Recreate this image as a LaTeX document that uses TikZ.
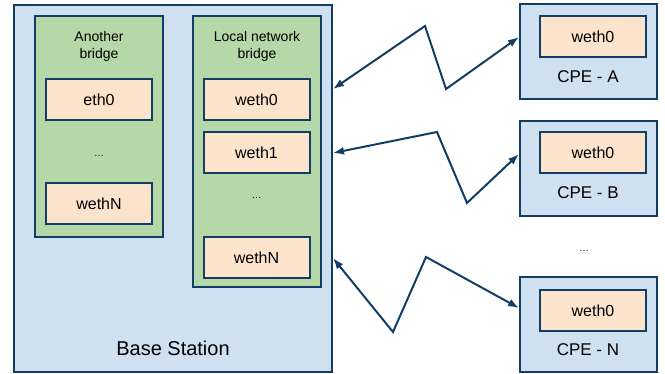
\documentclass[tikz,border=0pt]{standalone}
\usepackage{fontspec}
\setmainfont{Liberation Sans}
\usetikzlibrary{arrows.meta}

\definecolor{navy}{RGB}{18,62,102}
\definecolor{station}{RGB}{207,224,241}
\definecolor{bridgegreen}{RGB}{182,215,168}
\definecolor{ifaceorange}{RGB}{252,228,204}

\begin{document}
\begin{tikzpicture}[x=1pt, y=-1pt, line width=2pt]
    \tikzset{box/.style={draw=navy, rectangle, inner sep=0pt},
             station/.style={box, fill=station, minimum width=318pt, minimum height=367pt},
             bridge/.style={box, fill=bridgegreen, minimum width=128pt},
             iface/.style={box, fill=ifaceorange, minimum width=106pt, minimum height=41pt, font=\fontsize{16}{16}\selectfont},
             title/.style={align=center, font=\fontsize{14}{17}\selectfont},
             cpe/.style={box, fill=station, minimum width=137pt, minimum height=95pt},
             label/.style={font=\fontsize{17}{17}\selectfont},
             link/.style={draw=navy, line width=2pt, {Latex[length=11pt,width=8pt]}-{Latex[length=11pt,width=8pt]}}};

    \useasboundingbox (0, 0) rectangle (665, 373);

    % Base station
    \node [station] (bs) at (173, 188.5) {};
    \node [font=\fontsize{20}{20}\selectfont] (bslabel) at (173, 348) {Base Station};

    % Another bridge
    \node [bridge, minimum height=221pt] (ab) at (99, 126.5) {};
    \node [title] (abtitle) at (99, 46) {Another\\bridge};
    \node [iface] (eth0) at (99, 99.5) {eth0};
    \node (abdots) at (99, 156) {\dots};
    \node [iface] (abwethN) at (99, 203.5) {wethN};

    % Local network bridge
    \node [bridge, minimum height=271pt] (lb) at (257, 151.5) {};
    \node [title] (lbtitle) at (257, 46) {Local network\\bridge};
    \node [iface] (weth0) at (256.5, 99.5) {weth0};
    \node [iface] (weth1) at (256.5, 152.5) {weth1};
    \node (lbdots) at (256.5, 198) {\dots};
    \node [iface] (wethN) at (256.5, 257.5) {wethN};

    % CPEs
    \node [cpe] (cpea) at (588.5, 51.5) {};
    \node [iface] (cpeaif) at (593, 36.5) {weth0};
    \node [label] (cpealabel) at (588, 77) {CPE - A};

    \node [cpe] (cpeb) at (588.5, 168) {};
    \node [iface] (cpebif) at (593, 152.5) {weth0};
    \node [label] (cpeblabel) at (588, 193) {CPE - B};

    \node (cpedots) at (584, 251) {\dots};

    \node [cpe] (cpen) at (588.5, 324.5) {};
    \node [iface] (cpenif) at (593, 310.5) {weth0};
    \node [label] (cpenlabel) at (588, 350) {CPE - N};

    % Links
    \path (bs.east |- 0, 89) coordinate (bsa);
    \path (bs.east |- 0, 153) coordinate (bsb);
    \path (bs.east |- 0, 258) coordinate (bsn);
    \path (cpea.west |- 0, 37) coordinate (ina);
    \path (cpeb.west |- 0, 154) coordinate (inb);
    \path (cpen.west |- 0, 308) coordinate (inn);

    \path (425, 26) coordinate (za1);
    \path (446, 89) coordinate (za2);
    \path (437, 132) coordinate (zb1);
    \path (467, 203) coordinate (zb2);
    \path (393, 332) coordinate (zn1);
    \path (426, 257) coordinate (zn2);

    \draw [link] (bsa) -- (za1) -- (za2) -- (ina);
    \draw [link] (bsb) -- (zb1) -- (zb2) -- (inb);
    \draw [link] (bsn) -- (zn1) -- (zn2) -- (inn);
\end{tikzpicture}
\end{document}
